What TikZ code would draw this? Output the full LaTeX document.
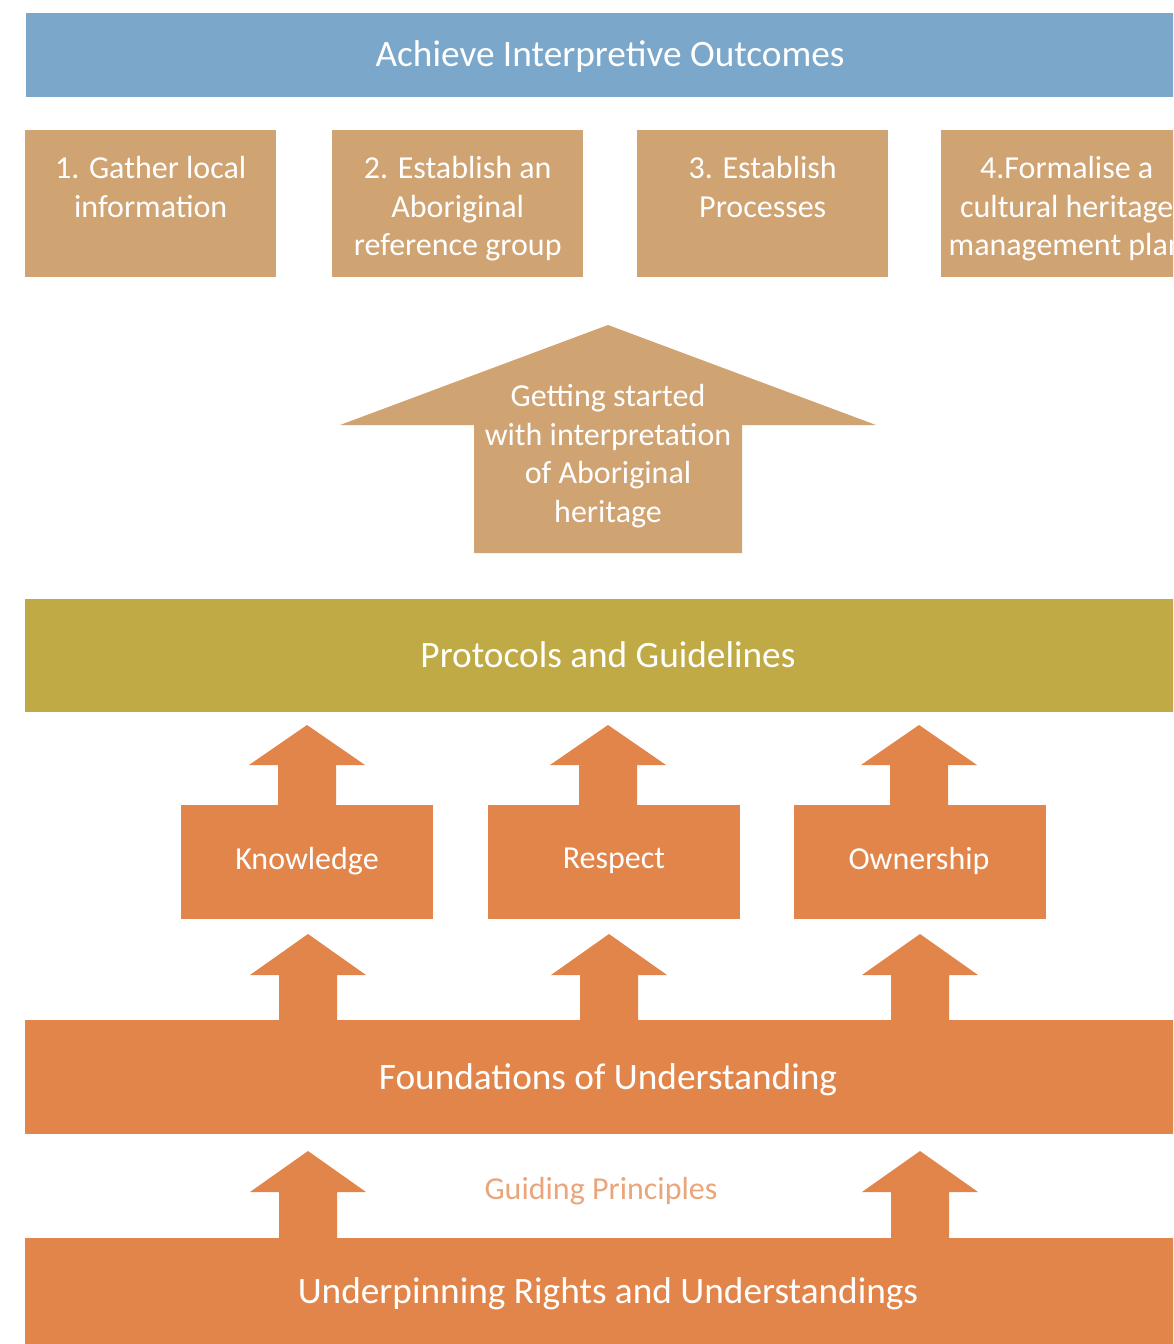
\documentclass[tikz,border=0pt]{standalone}
\usepackage{fontspec}
\setmainfont{Carlito}
\definecolor{bandblue}{HTML}{7BA8CA}
\definecolor{tanc}{HTML}{D0A373}
\definecolor{olivec}{HTML}{C0AA46}
\definecolor{orangec}{HTML}{E1854B}
\definecolor{guidec}{HTML}{EBA57A}
\newcommand\blockarrow[7]{% color, cx, tipy, wingy, bottomy, halfwing, halfshaft
  \fill[#1] (#2,#3) -- ({#2+#6},#4) -- ({#2+#7},#4) -- ({#2+#7},#5) -- ({#2-#7},#5) -- ({#2-#7},#4) -- ({#2-#6},#4) -- cycle;}
\begin{document}
\begin{tikzpicture}[x=1pt,y=-1pt,
  band/.style={draw=none, inner sep=0pt, anchor=north west, minimum width=1200pt},
  tanbox/.style={fill=tanc, draw=none, inner sep=0pt, anchor=north west, minimum width=251pt, minimum height=147pt},
  orbox/.style={fill=orangec, draw=none, inner sep=0pt, anchor=north west, minimum width=252pt, minimum height=114pt},
  bigtxt/.style={text=white, font=\fontsize{37.3}{44}\selectfont, inner sep=0pt},
  boxtxt/.style={text=white, font=\fontsize{32}{38.5}\selectfont, align=center, inner sep=0pt},
]
\useasboundingbox (0,0) rectangle (1173,1344);
\clip (0,0) rectangle (1173,1344);
\fill[white] (0,0) rectangle (1173,1344);

% top band
\node[band, fill=bandblue, minimum height=84pt] (top) at (26,13) {};
\node[bigtxt] (toptxt) at (610,57) {Achieve Interpretive Outcomes};

% step boxes
\node[tanbox] (b1) at (25,130) {};
\node[tanbox] (b2) at (332,130) {};
\node[tanbox] (b3) at (637,130) {};
\node[tanbox] (b4) at (941,130) {};
\node[boxtxt] (t1) at (b1.north |- 0,187) {1. Gather local\\information};
\node[boxtxt] (t2) at (b2.north |- 0,209) {2. Establish an\\Aboriginal\\reference group};
\node[boxtxt] (t3) at (b3.north |- 0,187) {3. Establish\\Processes};
\node[boxtxt] (t4) at (b4.north |- 0,209) {4.Formalise a\\cultural heritage\\management plan};

% big arrow
\fill[tanc] (608,325) -- (876,425) -- (742,425) -- (742,553) -- (474,553) -- (474,425) -- (340,425) -- cycle;
\node[boxtxt] (gs) at (608,456) {Getting started\\with interpretation\\of Aboriginal\\heritage};

% protocols band
\node[band, fill=olivec, minimum height=113pt] (proto) at (25,599) {};
\node[bigtxt] (prototxt) at (608,655) {Protocols and Guidelines};

% upper small arrows
\blockarrow{orangec}{307}{725}{765}{806}{58}{29}
\blockarrow{orangec}{608}{725}{765}{806}{58}{29}
\blockarrow{orangec}{919}{725}{765}{806}{58}{29}

% value boxes
\node[orbox] (k) at (181,805) {};
\node[orbox] (r) at (488,805) {};
\node[orbox] (o) at (794,805) {};
\node[boxtxt] (kt) at (307,861) {Knowledge};
\node[boxtxt] (rt) at (614,861) {Respect};
\node[boxtxt] (ot) at (919,861) {Ownership};

% lower small arrows
\blockarrow{orangec}{308}{934}{975}{1021}{58}{29}
\blockarrow{orangec}{609}{934}{975}{1021}{58}{29}
\blockarrow{orangec}{920}{934}{975}{1021}{58}{29}

% foundations band
\node[band, fill=orangec, minimum height=114pt] (found) at (25,1020) {};
\node[bigtxt] (foundtxt) at (608,1080) {Foundations of Understanding};

% guiding principles
\node[boxtxt, text=guidec] (guide) at (601,1191) {Guiding Principles};
\blockarrow{orangec}{308}{1151}{1192}{1239}{58}{29}
\blockarrow{orangec}{920}{1151}{1192}{1239}{58}{29}

% bottom band
\node[band, fill=orangec, minimum height=110pt] (under) at (25,1238) {};
\node[bigtxt] (undertxt) at (608,1294) {Underpinning Rights and Understandings};
\end{tikzpicture}
\end{document}
